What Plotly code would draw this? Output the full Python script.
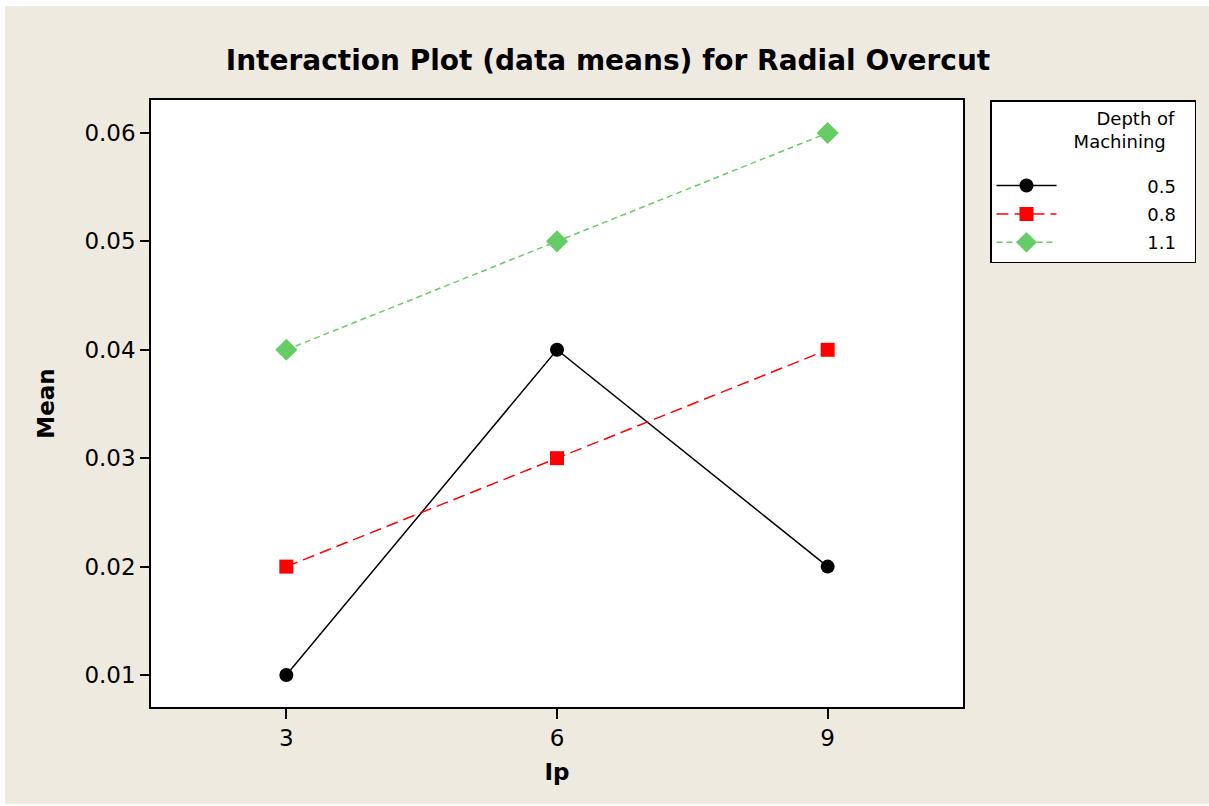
import plotly.graph_objects as go

ip = [3, 6, 9]
depth_labels = ["0.5", "0.8", "1.1"]
mean_05 = [0.01, 0.04, 0.02]
mean_08 = [0.02, 0.03, 0.04]
mean_11 = [0.04, 0.05, 0.06]

W, H = 1209, 806
L, R, T, B = 151, 963, 100, 707
BEIGE = "#EEEAE0"
FONT = "DejaVu Sans"
NB = "\u00a0"

series = [
    (depth_labels[0], mean_05, "black", "solid", "circle", 14),
    (depth_labels[1], mean_08, "#FF0000", "12px,6px", "square", 14),
    (depth_labels[2], mean_11, "#66CC66", "6px,4px", "diamond", 17),
]

fig = go.Figure()
for i, (name, ys, col, dash, sym, sz) in enumerate(series):
    extra = {}
    if i == 0:
        extra["legendgrouptitle"] = dict(text=NB, font=dict(size=4))
    fig.add_trace(go.Scatter(
        x=ip, y=ys, name=NB * 15 + name, mode="lines+markers",
        legendgroup="g%d" % i,
        line=dict(color=col, width=1.5, dash=dash),
        marker=dict(symbol=sym, size=sz, color=col),
        **extra,
    ))

def px2x(px):
    return (px - L) / (R - L)

def py2y(py):
    return (B - py) / (B - T)

# thin white strips at the image edges
for x0, x1, y0, y1 in [(-5, 5, -5, 811), (-5, 1215, -5, 6), (-5, 1215, 804, 811)]:
    fig.add_shape(type="rect", xref="paper", yref="paper", layer="below",
                  x0=px2x(x0), x1=px2x(x1), y0=py2y(y1), y1=py2y(y0),
                  fillcolor="white", line=dict(width=0))

fig.update_layout(
    width=W, height=H,
    margin=dict(l=L, r=W - R, t=T, b=H - B, autoexpand=False),
    paper_bgcolor=BEIGE, plot_bgcolor="white",
    font=dict(family=FONT, color="black"),
    title=dict(text="<b>Interaction Plot (data means) for Radial Overcut</b>",
               x=608 / W, xref="container", xanchor="center",
               y=1 - 60 / H, yanchor="middle",
               font=dict(family=FONT, size=28, color="black")),
    showlegend=True,
    legend=dict(
        x=px2x(990), y=1, xanchor="left", yanchor="top",
        bgcolor="white", bordercolor="black", borderwidth=1.5,
        font=dict(family=FONT, size=18),
        title=dict(text=NB * 18 + "Depth of" + NB * 3 + "<br>" + NB * 14 + "Machining",
                   side="top", font=dict(family=FONT, size=18)),
        itemwidth=60, tracegroupgap=2,
    ),
)

fig.update_xaxes(
    range=[1.5, 10.5], tickvals=ip, ticktext=[str(v) for v in ip],
    showgrid=False, zeroline=False, automargin=False,
    showline=True, linecolor="black", linewidth=1.5, mirror=True,
    ticks="outside", ticklen=10, tickcolor="black", tickwidth=1.5,
    tickfont=dict(family=FONT, size=23),
    title=dict(text="<b>Ip</b>", font=dict(family=FONT, size=23), standoff=14),
)
fig.update_yaxes(
    range=[0.00705, 0.06304], tickvals=[0.01, 0.02, 0.03, 0.04, 0.05, 0.06],
    ticktext=["0.01", "0.02", "0.03", "0.04", "0.05", "0.06"],
    showgrid=False, zeroline=False, automargin=False,
    showline=True, linecolor="black", linewidth=1.5, mirror=True,
    ticks="outside", ticklen=9, tickcolor="black", tickwidth=1.5,
    tickfont=dict(family=FONT, size=23),
    title=dict(text="<b>Mean</b>", font=dict(family=FONT, size=23), standoff=23),
)

fig.write_html(
    "out.html",
    config={"displayModeBar": False},
    post_script="document.body.style.margin='0';document.body.style.overflow='hidden';",
)
